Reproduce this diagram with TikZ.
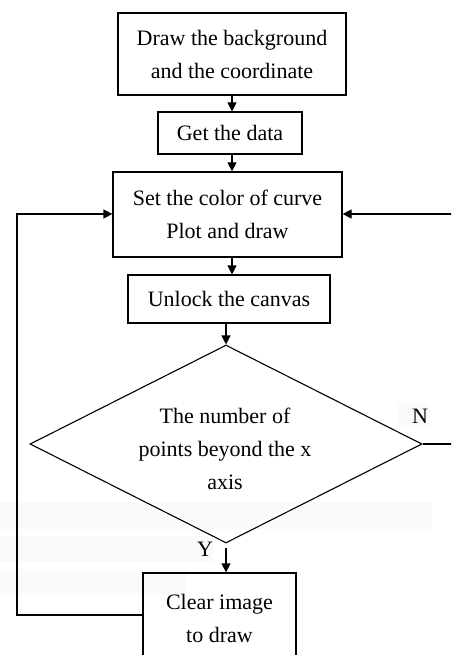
\documentclass[tikz,border=0pt]{standalone}
\usepackage{fontspec}
\setmainfont{Liberation Serif}
\usetikzlibrary{shapes.geometric,arrows.meta}
\begin{document}
\begin{tikzpicture}[x=1pt,y=-1pt,
  every node/.style={font=\fontsize{22}{33}\selectfont, align=center, inner sep=0pt},
  stepbox/.style={draw, line width=1.2pt, rectangle},
  test/.style={draw, line width=1.1pt, diamond, aspect=2},
  flow/.style={line width=1.2pt, -{Triangle[length=9pt,width=9pt]}},
  band/.style={fill=black!2, draw=none}]
\useasboundingbox (0,0) rectangle (451,655);
\clip (0,0) rectangle (451,655);
% faint bands in the background
\fill[band] (0,502) rectangle (432,529);
\fill[band] (0,536) rectangle (213,562);
\fill[band] (0,569) rectangle (187,595);
\fill[band] (398,404) rectangle (430,427);
% boxes
\node[stepbox, minimum width=228pt, minimum height=82pt] (bg) at (232,54) {Draw the background\\and the coordinate};
\node[stepbox, minimum width=144pt, minimum height=42pt] (data) at (230,133) {Get the data};
\node[stepbox, minimum width=229pt, minimum height=85pt] (plot) at (227.5,214.5) {Set the color of curve\\Plot and draw};
\node[stepbox, minimum width=202pt, minimum height=48pt] (unlock) at (229,299) {Unlock the canvas};
\node[test, minimum width=392pt, minimum height=198pt] (cond) at (226,444) {};
\node at (225,449) {The number of\\points beyond the x\\axis};
\node[stepbox, minimum width=153pt, minimum height=90pt] (clear) at (219.5,618) {Clear image\\to draw};
% labels
\node (nlab) at (420,416) {N};
\node (ylab) at (205,549) {Y};
% connectors
\coordinate (nr) at (458,444);
\coordinate (nt) at (458,214);
\coordinate (yl) at (17,615);
\coordinate (yt) at (17,214);
\draw[flow] (bg.south -| 232,0) -- (data.north -| 232,0);
\draw[flow] (data.south -| 232,0) -- (plot.north -| 232,0);
\draw[flow] (plot.south -| 232,0) -- (unlock.north -| 232,0);
\draw[flow] (unlock.south -| cond.north) -- (cond.north);
\draw[flow] (226,548) -- (clear.north -| 226,0);
\draw[flow] (cond.east) -- (nr) -- (nt) -- (plot.east |- nt);
\draw[flow] (clear.west |- yl) -- (yl) -- (yt) -- (plot.west |- yt);
\end{tikzpicture}
\end{document}
